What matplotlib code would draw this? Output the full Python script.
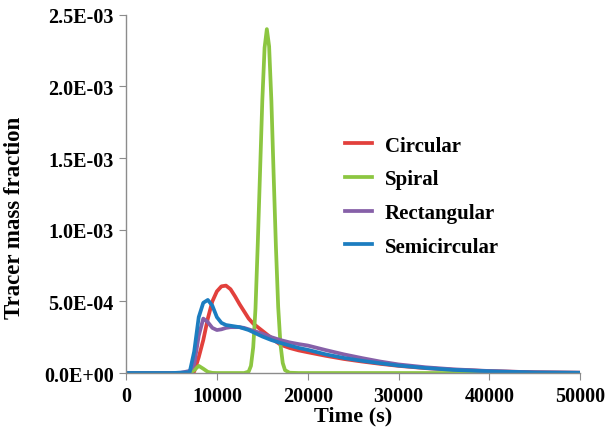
import numpy as np
import matplotlib.pyplot as plt

plt.rcParams['font.family'] = 'Liberation Serif'
plt.rcParams['font.weight'] = 'bold'

# Tracer curves, time in s, mass fraction in units of 1e-4
tCirc = [0, 5000, 7000, 7500, 8000, 8500, 9000, 9500, 10000, 10500, 11000, 11500,
         12000, 12500, 13000, 13500, 14000, 14500, 15000, 15500, 16000, 16500, 17000,
         18000, 19000, 20000, 22000, 24000, 26000, 28000, 30000, 33000, 36000, 40000,
         45000, 50000]
circular = [0, 0, 0, 0.1, 1.1, 2.3, 3.8, 5.0, 5.7, 6.05, 6.1, 5.85,
            5.35, 4.8, 4.3, 3.8, 3.45, 3.2, 2.95, 2.7, 2.45, 2.2, 1.98,
            1.75, 1.58, 1.45, 1.2, 0.98, 0.8, 0.64, 0.5, 0.34, 0.23, 0.13,
            0.05, 0.02]

tSpir = [0, 7000, 7500, 8000, 8500, 9000, 9500, 10000, 13000, 13500, 13750, 14000,
         14250, 14500, 14750, 15000, 15250, 15500, 15750, 16000, 16250, 16500, 16750,
         17000, 17250, 17500, 18000, 19000, 50000]
spiral = [0, 0, 0.2, 0.5, 0.3, 0.08, 0.01, 0, 0, 0.1, 0.5, 1.8,
          4.5, 9.0, 14.0, 19.0, 22.7, 24.0, 22.8, 19.0, 13.8, 8.8, 4.6,
          2.0, 0.7, 0.2, 0.02, 0, 0]

tRect = [0, 5000, 6000, 6500, 7000, 7500, 8000, 8500, 9000, 9500, 10000, 10500,
         11000, 11500, 12000, 12500, 13000, 13500, 14000, 14500, 15000, 16000, 17000,
         18000, 19000, 20000, 22000, 24000, 26000, 28000, 30000, 33000, 36000, 40000,
         45000, 50000]
rectangular = [0, 0, 0.02, 0.08, 0.15, 0.6, 2.6, 3.8, 3.55, 3.15, 3.0, 3.05,
               3.15, 3.2, 3.2, 3.2, 3.15, 3.05, 2.95, 2.85, 2.75, 2.5, 2.3,
               2.14, 2.02, 1.92, 1.6, 1.3, 1.04, 0.8, 0.6, 0.4, 0.26, 0.14,
               0.05, 0.02]

tSemi = [0, 5000, 7000, 7500, 8000, 8500, 9000, 9500, 10000, 10500, 11000, 11500,
         12000, 12500, 13000, 13500, 14000, 14500, 15000, 16000, 17000, 18000, 19000,
         20000, 22000, 24000, 26000, 28000, 30000, 33000, 36000, 40000, 45000, 50000]
semicircular = [0, 0, 0.05, 1.5, 3.9, 4.9, 5.1, 4.7, 3.9, 3.5, 3.35, 3.3,
                3.25, 3.2, 3.1, 3.0, 2.85, 2.7, 2.55, 2.3, 2.1, 1.92, 1.75,
                1.62, 1.3, 1.05, 0.85, 0.68, 0.52, 0.35, 0.22, 0.12, 0.04, 0.02]

fig = plt.figure(figsize=(6.12, 4.39), dpi=100)
ax = fig.add_axes([0.206, 0.148, 0.742, 0.816])

ax.plot(tCirc, np.array(circular) * 1e-4, color='#E2403C', lw=2.7, label='Circular')
ax.plot(tSpir, np.array(spiral) * 1e-4, color='#8CC641', lw=2.7, label='Spiral')
ax.plot(tRect, np.array(rectangular) * 1e-4, color='#8660A8', lw=2.7, label='Rectangular')
ax.plot(tSemi, np.array(semicircular) * 1e-4, color='#1C7DC0', lw=2.7, label='Semicircular')

ax.set_xlim(0, 50000)
ax.set_ylim(0, 2.5e-3)
ax.set_xticks(np.arange(0, 50001, 10000))
ax.set_yticks(np.arange(0, 2.51e-3, 5e-4))
ax.set_yticklabels(['%.1E' % v for v in np.arange(0, 2.51e-3, 5e-4)])

for s in ['top', 'right']:
    ax.spines[s].set_visible(False)
for s in ['left', 'bottom']:
    ax.spines[s].set_color('#8c8c8c')
    ax.spines[s].set_linewidth(1.0)
ax.tick_params(direction='out', length=5, color='#8c8c8c', labelsize=14.5, pad=4)
for lab in ax.get_xticklabels() + ax.get_yticklabels():
    lab.set_fontweight('bold')

ax.set_xlabel('Time (s)', fontsize=16, fontweight='bold', labelpad=0)
ax.set_ylabel('Tracer mass fraction', fontsize=16.5, fontweight='bold')
ax.yaxis.set_label_coords(-0.222, 0.436)

ax.legend(loc='upper left', bbox_to_anchor=(0.482, 0.663), frameon=False,
          prop={'size': 15, 'weight': 'bold'}, borderpad=0, borderaxespad=0,
          handlelength=1.3, labelspacing=0.66, handletextpad=0.62)

fig.savefig('out.png', dpi=100)
